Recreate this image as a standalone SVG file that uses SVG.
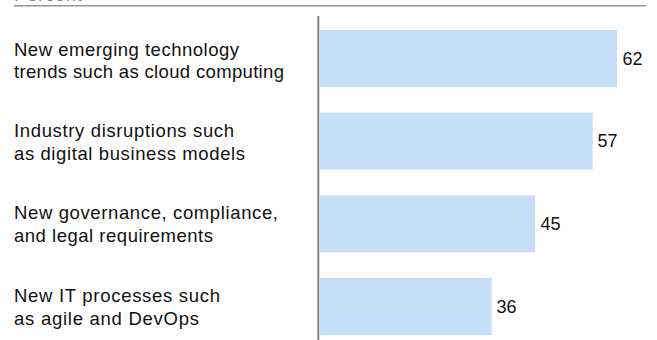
<svg xmlns="http://www.w3.org/2000/svg" width="657" height="340" viewBox="0 0 657 340">
<style>
.lbl{font-family:"Liberation Sans",Arial,sans-serif;font-size:18.5px;fill:#111}
.val{font-family:"Liberation Sans",Arial,sans-serif;font-size:18px;fill:#111}
.bar{fill:#c6dff8}
</style>
<rect width="657" height="340" fill="#ffffff"/>
<text class="lbl" x="14" y="0.8" style="fill:#888" textLength="68" lengthAdjust="spacing">Percent</text>
<line x1="14" y1="5.7" x2="646" y2="5.7" stroke="#8c979b" stroke-width="1.6"/>
<g id="axis"><line x1="318.3" y1="16" x2="318.3" y2="340" stroke="#808080" stroke-width="2"/></g>
<g id="bar1">
<rect class="bar" x="320" y="30" width="297" height="57"/>
<text class="val" x="622.5" y="64.5">62</text>
<text class="lbl" x="14" y="55.5" textLength="225" lengthAdjust="spacing">New emerging technology</text>
<text class="lbl" x="14" y="78" textLength="270" lengthAdjust="spacing">trends such as cloud computing</text>
</g>
<g id="bar2">
<rect class="bar" x="320" y="112.7" width="272.7" height="57"/>
<text class="val" x="597.5" y="147">57</text>
<text class="lbl" x="14" y="137" textLength="220" lengthAdjust="spacing">Industry disruptions such</text>
<text class="lbl" x="14" y="159.5" textLength="231" lengthAdjust="spacing">as digital business models</text>
</g>
<g id="bar3">
<rect class="bar" x="320" y="195.3" width="215" height="57"/>
<text class="val" x="540.5" y="230">45</text>
<text class="lbl" x="14" y="219" textLength="264" lengthAdjust="spacing">New governance, compliance,</text>
<text class="lbl" x="14" y="241.5" textLength="199" lengthAdjust="spacing">and legal requirements</text>
</g>
<g id="bar4">
<rect class="bar" x="320" y="278" width="171.7" height="57"/>
<text class="val" x="496.5" y="312.5">36</text>
<text class="lbl" x="14" y="302" textLength="206" lengthAdjust="spacing">New IT processes such</text>
<text class="lbl" x="14" y="324.5" textLength="185" lengthAdjust="spacing">as agile and DevOps</text>
</g>
</svg>
